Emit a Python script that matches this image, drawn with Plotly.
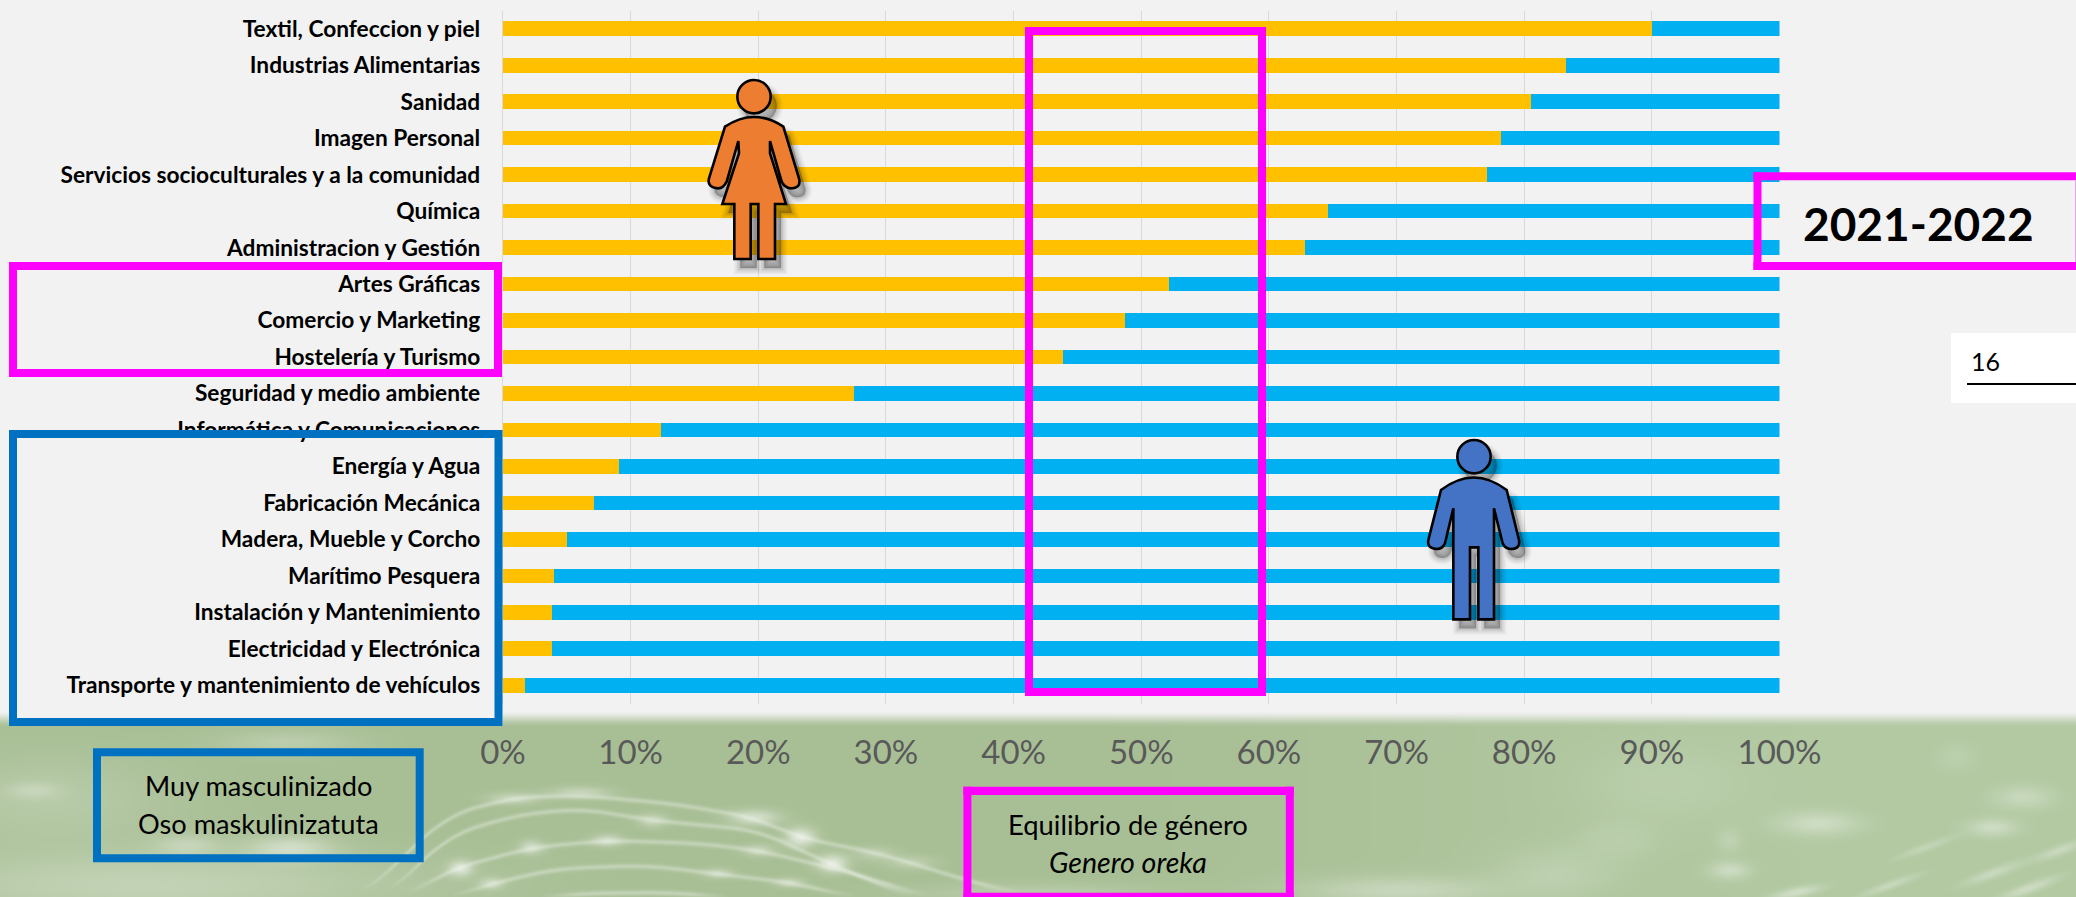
import base64, re, struct, zlib
import numpy as np
import plotly.graph_objects as go

W, H = 2076, 897

categories = ["Textil, Confeccion y piel", "Industrias Alimentarias", "Sanidad", "Imagen Personal",
              "Servicios socioculturales y a la comunidad", "Química", "Administracion y Gestión",
              "Artes Gráficas", "Comercio y Marketing", "Hostelería y Turismo",
              "Seguridad y medio ambiente", "Informática y Comunicaciones", "Energía y Agua",
              "Fabricación Mecánica", "Madera, Mueble y Corcho", "Marítimo Pesquera",
              "Instalación y Mantenimiento", "Electricidad y Electrónica",
              "Transporte y mantenimiento de vehículos"]
mujeres = [90.0, 83.3, 80.5, 78.2, 77.1, 64.6, 62.8, 52.2, 48.7, 43.9, 27.5, 12.4, 9.1, 7.1, 5.0, 4.0, 3.8, 3.8, 1.7]
hombres = [10.0, 16.7, 19.5, 21.8, 22.9, 35.4, 37.2, 47.8, 51.3, 56.1, 72.5, 87.6, 90.9, 92.9, 95.0, 96.0, 96.2, 96.2, 98.3]
x_ticks = [0, 10, 20, 30, 40, 50, 60, 70, 80, 90, 100]


def px(x):
    return x / W


def py(y):
    return 1 - y / H


# ---- soft background band (decorative photo behind the chart) ----
BAND_TOP = 700
def band_png():
    h = H - BAND_TOP
    X, Y = np.meshgrid(np.arange(W, dtype=float), np.arange(BAND_TOP, H, dtype=float))
    img = np.zeros((h, W, 3))
    img[..., 0] = 168 + 10 * np.clip((X - 1100) / 700, 0, 1)
    img[..., 1] = 191 + 10 * np.clip((X - 1100) / 700, 0, 1)
    img[..., 2] = 149 + 13 * np.clip((X - 1100) / 700, 0, 1)
    white = np.array([255.0, 255.0, 255.0])

    def add(alpha):
        nonlocal img
        img = img + (white - img) * alpha[..., None]

    blobs = [(150, 885, 260, 34, .30, 0), (50, 800, 120, 45, .18, 0), (286, 742, 70, 12, .22, 0),
             (33, 790, 25, 8, .25, 0), (187, 845, 32, 10, .3, 0), (290, 848, 42, 12, .45, 0),
             (460, 868, 12, 8, .6, 0), (531, 847, 12, 7, .45, 0), (607, 840, 15, 6, .45, 0),
             (652, 820, 14, 7, .35, 0), (513, 798, 25, 6, .35, 0), (580, 792, 30, 6, .35, 0),
             (491, 883, 12, 6, .4, 0), (754, 817, 25, 8, .5, 0), (800, 837, 15, 10, .65, 0),
             (758, 850, 15, 6, .35, 0), (832, 863, 15, 9, .65, 0), (718, 873, 14, 5, .35, 0),
             (789, 882, 14, 5, .35, 0), (874, 853, 20, 7, .25, 0), (910, 862, 25, 7, .25, 0),
             (1662, 783, 90, 40, .12, 0), (1818, 823, 40, 12, .35, 0), (2023, 797, 30, 12, .28, 0),
             (1992, 827, 25, 9, .35, 0), (1729, 870, 20, 9, .35, 0), (1729, 840, 12, 12, .18, 0),
             (1617, 840, 40, 20, .12, 0), (1555, 873, 60, 25, .18, 0), (1398, 890, 100, 14, .32, 0),
             (1956, 757, 20, 15, .12, 0), (1925, 847, 30, 4, .22, -.35), (1992, 873, 30, 5, .3, -.35),
             (1889, 885, 30, 4, .28, -.35), (2028, 888, 30, 5, .35, -.35), (2059, 850, 25, 5, .3, -.35),
             (1796, 892, 25, 5, .4, -.2), (1030, 893, 120, 10, .2, 0)]
    for cx, cy, rx, ry, a, ang in blobs:
        dx, dy = X - cx, Y - cy
        u = dx * np.cos(ang) + dy * np.sin(ang)
        v = -dx * np.sin(ang) + dy * np.cos(ang)
        add(a * np.exp(-(u / rx) ** 2 - (v / ry) ** 2))

    arcs = [([360, 446, 513, 580, 670, 754, 798, 879, 977, 1021], [897, 815, 797, 795, 803, 817, 837, 853, 883, 893]),
            ([385, 446, 513, 580, 652, 727, 758, 829, 887, 914], [897, 836, 815, 808, 820, 827, 830, 863, 887, 897]),
            ([405, 446, 531, 607, 700, 758, 850, 930], [897, 870, 847, 840, 843, 850, 872, 897]),
            ([450, 491, 558, 647, 713, 789, 856], [897, 883, 868, 865, 873, 882, 897]),
            ([540, 580, 670, 730], [897, 893, 892, 897])]
    for xs, ys in arcs:
        xx = np.arange(W, dtype=float)
        yc = np.interp(xx, xs, ys)
        k = np.ones(61) / 61
        yc = np.convolve(np.pad(yc, 30, mode="edge"), k, mode="valid")
        fade = np.clip((xx - xs[0]) / 40, 0, 1) * np.clip((xs[-1] - xx) / 40, 0, 1)
        add(.30 * fade[None, :] * np.exp(-((Y - yc[None, :]) / 2.6) ** 2))

    # fade from the page grey into the green
    t = np.clip((Y - 710) / 17, 0, 1)
    t = (t * t * (3 - 2 * t))[..., None]
    img = np.array([242.0, 242.0, 242.0]) * (1 - t) + img * t

    data = np.clip(img, 0, 255).astype(np.uint8)
    raw = b"".join(b"\x00" + row.tobytes() for row in data)

    def chunk(tag, body):
        return struct.pack(">I", len(body)) + tag + body + struct.pack(">I", zlib.crc32(tag + body))

    png = (b"\x89PNG\r\n\x1a\n" + chunk(b"IHDR", struct.pack(">IIBBBBB", W, h, 8, 2, 0, 0, 0))
           + chunk(b"IDAT", zlib.compress(raw, 9)) + chunk(b"IEND", b""))
    return "data:image/png;base64," + base64.b64encode(png).decode()


# ---- helpers for overlay shapes given in page pixels ----
shapes = []


def frame(x0, y0, x1, y1, color, w=8, fill=None, layer="above"):
    shapes.append(dict(type="rect", xref="paper", yref="paper", layer=layer,
                       x0=px(x0 + w / 2), x1=px(x1 - w / 2), y0=py(y0 + w / 2), y1=py(y1 - w / 2),
                       line=dict(color=color, width=w), fillcolor=fill or "rgba(0,0,0,0)"))


def block(x0, y0, x1, y1, fill, layer="below"):
    shapes.append(dict(type="rect", xref="paper", yref="paper", layer=layer,
                       x0=px(x0), x1=px(x1), y0=py(y0), y1=py(y1), line=dict(width=0), fillcolor=fill))


def icon_path(d, ox, oy, dx=0, dy=0):
    def repl(m):
        zx, zy = float(m.group(1)), float(m.group(2))
        return f"{px(ox + zx / 3 + dx):.6f},{py(oy + zy / 3 + dy):.6f}"
    return re.sub(r"(-?[\d.]+),(-?[\d.]+)", repl, d)


def icon(d, ox, oy, fill):
    hx, hy, hr = 192, 80, 50
    for wid, op in [(13, .03), (10, .04), (7, .05), (4, .07), (1, .09)]:
        shapes.append(dict(type="path", xref="paper", yref="paper", layer="above",
                           path=icon_path(d, ox, oy, 6, 9), fillcolor=f"rgba(0,0,0,{op})",
                           line=dict(color=f"rgba(0,0,0,{op})", width=wid)))
        shapes.append(dict(type="circle", xref="paper", yref="paper", layer="above",
                           x0=px(ox + (hx - hr) / 3 + 6), x1=px(ox + (hx + hr) / 3 + 6),
                           y0=py(oy + (hy - hr) / 3 + 9), y1=py(oy + (hy + hr) / 3 + 9),
                           fillcolor=f"rgba(0,0,0,{op})", line=dict(color=f"rgba(0,0,0,{op})", width=wid)))
    shapes.append(dict(type="path", xref="paper", yref="paper", layer="above",
                       path=icon_path(d, ox, oy), fillcolor=fill, line=dict(color="#000000", width=2.6)))
    shapes.append(dict(type="circle", xref="paper", yref="paper", layer="above",
                       x0=px(ox + (hx - hr) / 3), x1=px(ox + (hx + hr) / 3),
                       y0=py(oy + (hy - hr) / 3), y1=py(oy + (hy + hr) / 3),
                       fillcolor=fill, line=dict(color="#000000", width=2.6)))


WOMAN = ("M 105,170 Q 192,112 280,170 L 327,325 Q 335,355 300,355 Q 283,352 275,335 L 240,213 L 240,250 "
         "L 288,402 L 255,402 L 255,567 L 205,567 L 205,402 L 182,402 L 182,567 L 133,567 L 133,402 L 97,402 "
         "L 147,250 L 145,213 L 110,335 Q 100,355 85,355 Q 50,352 57,325 Z")
MAN = ("M 93,180 Q 191,105 290,180 L 327,330 Q 332,357 302,357 Q 285,355 278,340 L 252,235 L 252,568 "
       "L 205,568 L 205,352 L 180,352 L 180,568 L 130,568 L 130,235 L 105,340 Q 97,357 80,357 Q 50,355 55,330 Z")

PINK, BLUE = "#ff00ff", "#0070c0"
block(9, 430, 502.5, 726, "#f2f2f2")
block(1951, 333, 2076, 403, "#ffffff", layer="above")
shapes.append(dict(type="line", xref="paper", yref="paper", layer="above", x0=px(1967), x1=1,
                   y0=py(384), y1=py(384), line=dict(color="#000000", width=2)))
icon(WOMAN, 690, 70, "#ed7d31")
icon(MAN, 1410, 430, "#4472c4")
frame(9, 262, 502, 377, PINK)
frame(9, 430, 502.5, 726, BLUE)
frame(1025, 27, 1266, 696, PINK)
# 2021-2022 box: right side runs off the page, so it is drawn side by side
block(1753.5, 172.3, 2076, 180.3, PINK, layer="above")
block(1753.5, 262, 2076, 270, PINK, layer="above")
block(1753.5, 172.3, 1761.5, 270, PINK, layer="above")
block(2075, 180.3, 2076, 262, "#f0a0f0", layer="above")
# equilibrium box: bottom side is cut by the page edge
block(963.4, 786.7, 1293.8, 795, PINK, layer="above")
block(963.4, 786.7, 971.4, 897, PINK, layer="above")
block(1285.8, 786.7, 1293.8, 897, PINK, layer="above")
block(963.4, 892.7, 1293.8, 897, PINK, layer="above")
frame(93, 748.3, 423.7, 862.3, BLUE)

FONT = "Lato"
TEXT = [("Muy masculinizado", 258.5, 785, 27.2), ("Oso maskulinizatuta", 258.5, 823.5, 27.2),
        ("Equilibrio de género", 1128, 824, 27.4), ("<i>Genero oreka</i>", 1128, 862, 28.6),
        ("<b>2021-2022</b>", 1918, 223, 46)]
annotations = [dict(text=t, x=px(x), y=py(y), xref="paper", yref="paper", xanchor="center", yanchor="middle",
                    showarrow=False, font=dict(family=FONT, size=s, color="#000000")) for t, x, y, s in TEXT]
annotations.append(dict(text="16", x=px(1969), y=py(361), xref="paper", yref="paper", xanchor="left", yanchor="middle",
                        showarrow=False, font=dict(family=FONT, size=25, color="#000000")))

fig = go.Figure()
fig.add_bar(y=categories, x=mujeres, orientation="h", width=0.4, marker=dict(color="#ffc000", line=dict(width=0)), name="Mujeres")
fig.add_bar(y=categories, x=hombres, orientation="h", width=0.4, marker=dict(color="#00b0f0", line=dict(width=0)), name="Hombres")
fig.update_layout(
    width=W, height=H, barmode="stack", showlegend=False, paper_bgcolor="#f2f2f2", plot_bgcolor="rgba(0,0,0,0)",
    margin=dict(l=0, r=0, t=0, b=0, pad=0, autoexpand=False), font=dict(family=FONT), shapes=shapes, annotations=annotations,
    images=[dict(source=band_png(), xref="paper", yref="paper", x=0, y=py(BAND_TOP), sizex=1, sizey=(H - BAND_TOP) / H,
                 xanchor="left", yanchor="top", sizing="stretch", layer="below")],
    xaxis=dict(domain=[px(503), px(1779.5)], range=[0, 100], automargin=False, tickmode="array", tickvals=x_ticks,
               ticktext=[f"{v}%" for v in x_ticks], showgrid=True, gridcolor="#d9d9d9", gridwidth=1.4, zeroline=False,
               showline=False, ticks="", tickfont=dict(family=FONT, size=33, color="#595959"), ticklabelstandoff=26),
    yaxis=dict(domain=[py(703.5), py(10.5)], type="category", automargin=False, categoryorder="array", categoryarray=categories,
               autorange="reversed", showgrid=False, showline=True, linecolor="#d9d9d9", linewidth=1.4, ticks="",
               tickfont=dict(family=FONT, size=22.7, color="#000000", weight="bold"), ticklabelstandoff=17),
)
fig.write_html("out.html", config=dict(displayModeBar=False),
               post_script="document.body.style.margin='0';document.body.style.overflow='hidden';")
